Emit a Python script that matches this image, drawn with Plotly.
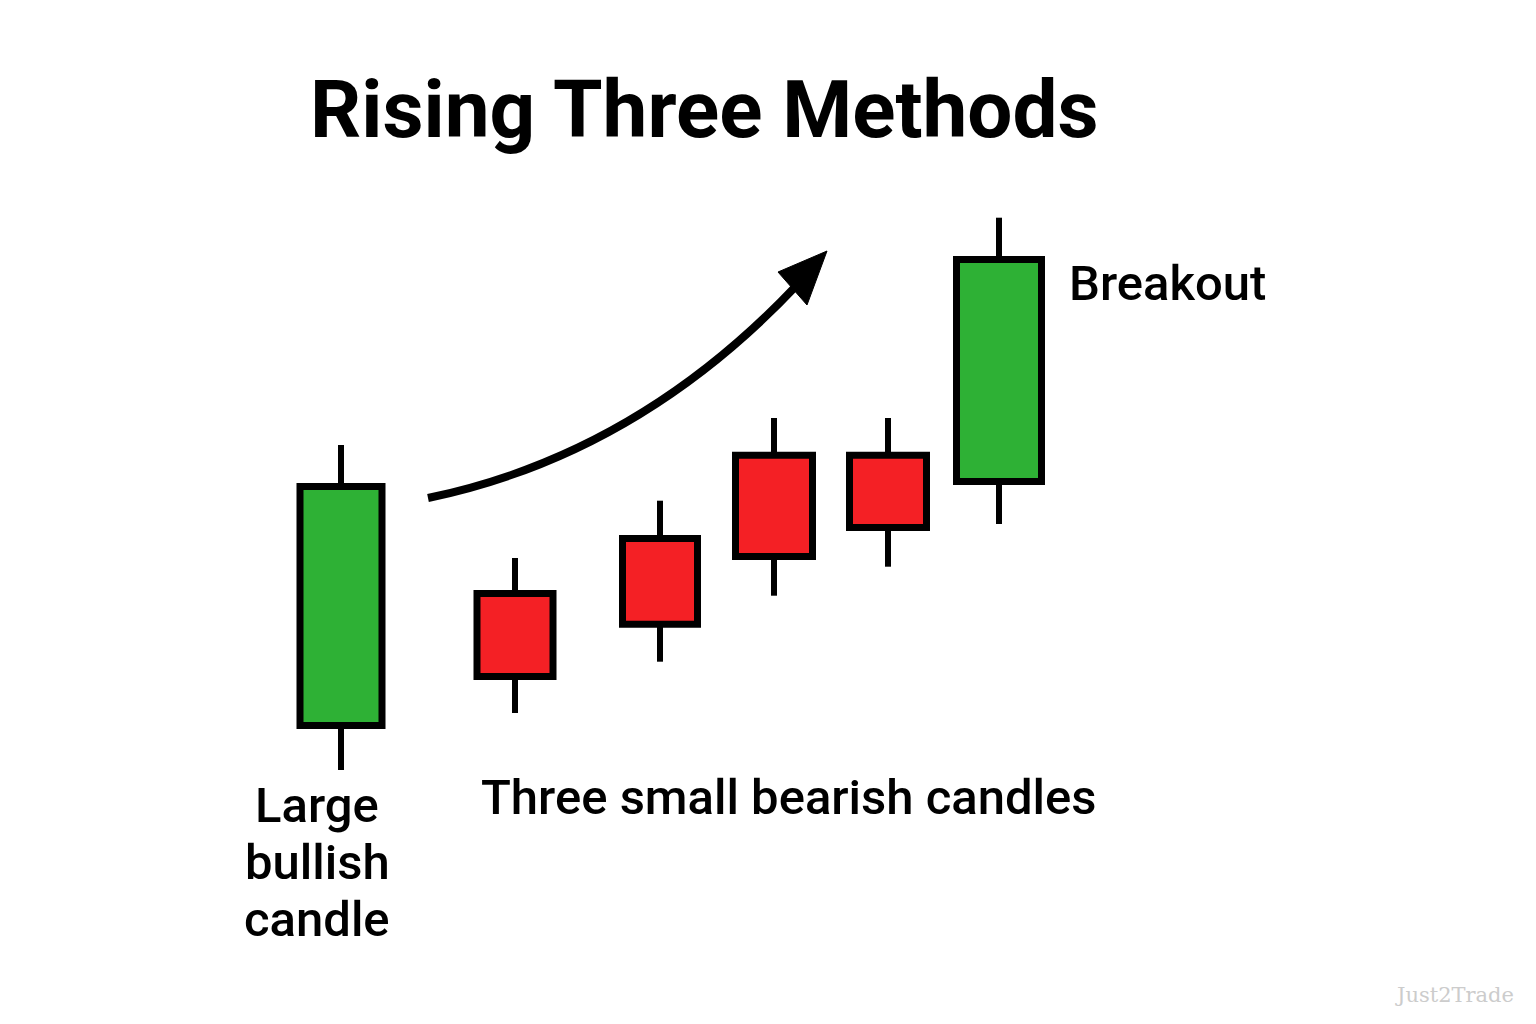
import plotly.graph_objects as go

# ---- data (price units, session positions) ----
sessions = [3.41, 5.15, 6.60, 7.74, 8.88, 9.99]
opens = [29.85, 43.05, 48.55, 56.88, 56.88, 54.25]
closes = [53.75, 34.75, 39.98, 46.75, 49.65, 76.45]
highs = [57.9, 46.6, 52.33, 60.6, 60.6, 80.63]
lows = [25.4, 31.1, 36.23, 42.83, 45.73, 50.0]
body_widths = [0.82, 0.76, 0.75, 0.77, 0.77, 0.85]

title_text = "Rising Three Methods"
label_breakout = "Breakout"
label_bearish = "Three small bearish candles"
label_bullish = ["Large", "bullish", "candle"]
watermark = "Just2Trade"

GREEN = "#2eb135"
RED = "#f42025"
FONT = "Roboto, Liberation Sans, Arial, sans-serif"

colors = [GREEN if c > o else RED for o, c in zip(opens, closes)]

fig = go.Figure()

# wicks (drawn as two segments so they do not cross the bodies)
wx, wy = [], []
for x, o, c, h, l in zip(sessions, opens, closes, highs, lows):
    top, bot = max(o, c), min(o, c)
    wx += [x, x, None, x, x, None]
    wy += [top, h, None, l, bot, None]
fig.add_trace(go.Scatter(x=wx, y=wy, mode="lines",
                         line=dict(color="black", width=6),
                         hoverinfo="skip", showlegend=False))

# bodies
fig.add_trace(go.Bar(
    x=sessions,
    y=[c - o for o, c in zip(opens, closes)],
    base=opens,
    width=body_widths,
    marker=dict(color=colors, line=dict(color="black", width=7)),
    showlegend=False,
    hoverinfo="skip",
))

# curved arrow
fig.add_shape(type="path",
              path="M 4.28,52.6 Q 6.37,56.95 7.97,73.9",
              xref="x", yref="y",
              line=dict(color="black", width=8))
fig.add_shape(type="path",
              path="M 8.27,77.3 L 7.78,75.2 L 8.07,71.9 Z",
              xref="x", yref="y",
              fillcolor="black", line=dict(color="black", width=1))

W, H = 1536, 1024


def px_ann(text, x, y, size, xanchor="center", weight=500, color="black", family=FONT):
    fig.add_annotation(
        text=text,
        x=x / W, y=1 - y / H, xref="paper", yref="paper",
        xanchor=xanchor, yanchor="middle", showarrow=False,
        font=dict(family=family, size=size, color=color, weight=weight),
    )


px_ann(title_text, 704, 110, 80, weight=700)
px_ann(label_breakout, 1067, 283, 49, xanchor="left")
px_ann(label_bearish, 789, 797, 49)
for txt, yy in zip(label_bullish, [805, 862, 919]):
    px_ann(txt, 317, yy, 49)
px_ann(watermark, 1454, 995, 21, color="#cccccc", family="DejaVu Serif, serif", weight=400)

fig.update_layout(
    width=W, height=H, autosize=False,
    margin=dict(l=0, r=0, t=0, b=0, pad=0),
    paper_bgcolor="white", plot_bgcolor="white",
    barmode="overlay",
    xaxis=dict(range=[0, 15.36], visible=False, fixedrange=True),
    yaxis=dict(range=[0, 102.4], visible=False, fixedrange=True),
)

fig.write_html("out.html",
               config={"displayModeBar": False},
               post_script="document.body.style.margin='0';document.body.style.overflow='hidden';")
